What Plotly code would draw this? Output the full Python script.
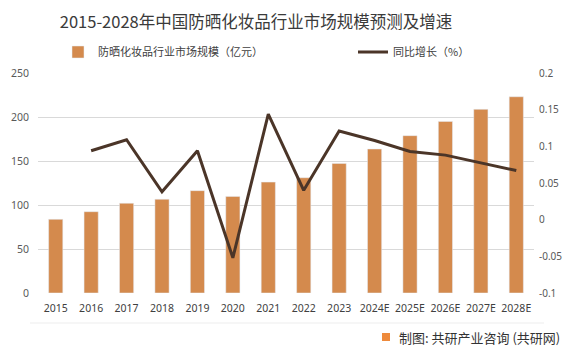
import plotly.graph_objects as go

years = ["2015", "2016", "2017", "2018", "2019", "2020", "2021", "2022", "2023",
         "2024E", "2025E", "2026E", "2027E", "2028E"]
market_size = [83.7, 92.4, 102.0, 106.5, 116.3, 109.8, 126.0, 131.0, 147.3,
               163.6, 178.8, 195.0, 208.7, 223.0]
growth = [None, 0.094, 0.109, 0.038, 0.094, -0.052, 0.144, 0.040, 0.121,
          0.108, 0.093, 0.088, 0.077, 0.067]

left_ticks = [0, 50, 100, 150, 200, 250]
right_ticks = [-0.1, -0.05, 0, 0.05, 0.1, 0.15, 0.2]
right_tick_text = ["-0.1", "-0.05", "0", "0.05", "0.1", "0.15", "0.2"]

title_text = "2015-2028年中国防晒化妆品行业市场规模预测及增速"
bar_name = "防晒化妆品行业市场规模（亿元）"
line_name = "同比增长（%）"
credit_text = "制图: 共研产业咨询 (共研网)"

FONT = "Noto Sans CJK SC, Noto Sans, sans-serif"
TICK_FONT = "Noto Sans, Noto Sans CJK SC, sans-serif"
BAR_COLOR = "#D48A4D"
LINE_COLOR = "#4B3528"

fig = go.Figure()
fig.add_trace(go.Bar(
    x=years, y=market_size, name=bar_name, marker_color=BAR_COLOR,
    yaxis="y", legend="legend",
))
fig.add_trace(go.Scatter(
    x=years, y=growth, name=line_name, mode="lines",
    line=dict(color=LINE_COLOR, width=3), yaxis="y2", legend="legend2",
))

fig.update_layout(
    width=571, height=355,
    margin=dict(l=38, r=37, t=73, b=62, autoexpand=False),
    paper_bgcolor="white", plot_bgcolor="white",
    font=dict(family=FONT, size=11, color="#595959"),
    bargap=0.6,
    title=dict(text=title_text, x=256 / 571, xanchor="center", y=1 - 22 / 355,
               yanchor="middle", font=dict(family=FONT, size=16.5, color="#3a3a3a")),
    xaxis=dict(showgrid=False, showline=False, ticks="", automargin=False,
               ticklabelstandoff=7,
               tickfont=dict(family=TICK_FONT, size=10.5, color="#404040")),
    yaxis=dict(range=[0, 250], tickvals=left_ticks, showgrid=True, gridcolor="#D9D9D9",
               gridwidth=1, zeroline=False, showline=False, ticks="", automargin=False,
               ticklabelstandoff=8,
               tickfont=dict(family=TICK_FONT, size=10.5, color="#595959")),
    yaxis2=dict(range=[-0.1, 0.2], tickvals=right_ticks, ticktext=right_tick_text,
                overlaying="y", side="right", showgrid=False, zeroline=False,
                showline=False, ticks="", automargin=False, ticklabelstandoff=4,
                tickfont=dict(family=TICK_FONT, size=10, color="#595959")),
    legend=dict(orientation="h", xref="container", yref="container",
                x=58 / 571, y=1 - 52 / 355, xanchor="left", yanchor="middle",
                font=dict(size=11, color="#404040"), bgcolor="rgba(0,0,0,0)"),
    legend2=dict(orientation="h", xref="container", yref="container",
                 x=353 / 571, y=1 - 52 / 355, xanchor="left", yanchor="middle",
                 font=dict(size=11, color="#404040"), bgcolor="rgba(0,0,0,0)"),
    showlegend=True,
)

# separator line and credit
fig.add_shape(type="line", xref="paper", yref="paper",
              x0=-8 / 496, x1=1 + 10 / 496, y0=-30 / 220, y1=-30 / 220,
              line=dict(color="#EDEDED", width=1))
fig.add_shape(type="rect", xref="paper", yref="paper",
              x0=(382 - 38) / 496, x1=(390 - 38) / 496,
              y0=-(341 - 293) / 220, y1=-(333 - 293) / 220,
              fillcolor="#EE8A3C", line=dict(width=0))
fig.add_annotation(text=credit_text, xref="paper", yref="paper",
                   x=(397 - 38) / 496, y=-(337 - 293) / 220, xanchor="left",
                   yanchor="middle", showarrow=False,
                   font=dict(family=FONT, size=13, color="#333333"))

fig.write_html("out.html", config={"displayModeBar": False},
               post_script="document.body.style.margin='0';")
